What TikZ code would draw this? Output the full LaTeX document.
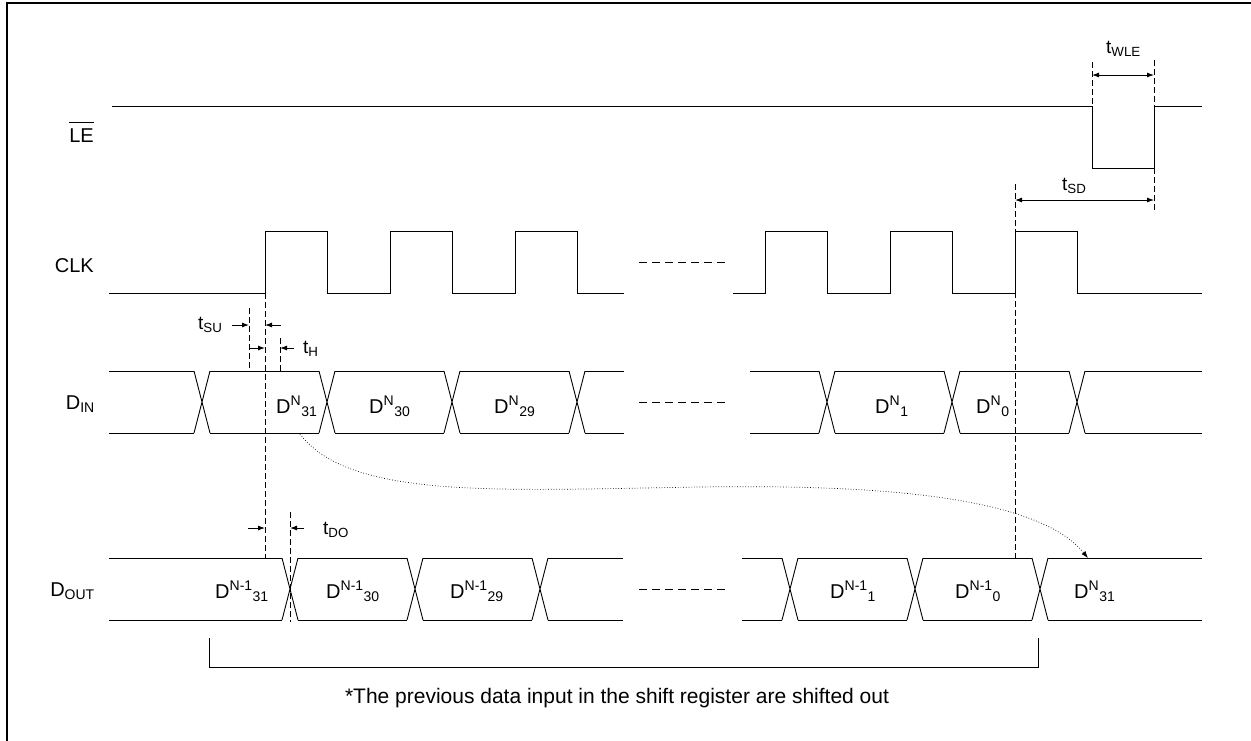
\documentclass[tikz,border=0pt]{standalone}
\usepackage{fontspec}
\setmainfont{Liberation Sans}
\usetikzlibrary{arrows.meta,calc}
% one bus row: top y, start x, crossings, end x
\newcommand\databus[4]{%
  \foreach \c [remember=\c as \p (initially #2-8)] in {#3,#4+8}
    \draw[wave] (\p+8,#1) -- (\c-8,#1) (\p+8,#1+62) -- (\c-8,#1+62);
  \foreach \c in {#3}
    \draw[wave] (\c-8,#1) -- (\c+8,#1+62) (\c-8,#1+62) -- (\c+8,#1);
}
\def\dv#1#2{D\textsuperscript{#1}\textsubscript{#2}}
\tikzset{
  wave/.style={line width=0.9pt},
  guide/.style={line width=0.8pt,dash pattern=on 6pt off 3pt},
  gapline/.style={line width=0.8pt,dash pattern=on 8pt off 5pt},
  lbl/.style={font=\fontsize{20}{23}\selectfont,inner sep=0pt},
  tlbl/.style={font=\fontsize{19}{22}\selectfont,inner sep=0pt,anchor=base west},
}

\begin{document}
\begin{tikzpicture}[x=1pt,y=-1pt,>={Latex[length=7pt,width=5pt]}]
\useasboundingbox (0,0) rectangle (1251,740);
\draw[line width=2.4pt] (7,745) -- (7,3) -- (1256,3);

% signal names
\node[lbl,anchor=base east] (le) at (94,142) {LE};
\draw[line width=0.8pt] ([yshift=6pt]le.north west) -- ([yshift=6pt]le.north east);
\node[lbl,anchor=base east] (clk) at (94,272) {CLK};
\node[lbl,anchor=base east] (din) at (95,409) {D\textsubscript{IN}};
\node[lbl,anchor=base east] (dout) at (95,596) {D\textsubscript{OUT}};

% LE and CLK
\draw[wave] (112,106) -- (1092,106) -- (1092,168) -- (1154,168) -- (1154,106) -- (1202,106);
\draw[wave] (109,293) -- (265,293) -- (265,231) -- (327,231) -- (327,293) -- (390,293)
  -- (390,231) -- (452,231) -- (452,293) -- (515,293) -- (515,231) -- (577,231) -- (577,293) -- (624,293);
\draw[wave] (733,293) -- (765,293) -- (765,231) -- (827,231) -- (827,293) -- (890,293)
  -- (890,231) -- (952,231) -- (952,293) -- (1015,293) -- (1015,231) -- (1077,231) -- (1077,293) -- (1202,293);

% data rows
\databus{371}{109}{202,327,452,577}{624}
\databus{371}{750}{827,952,1077}{1202}
\databus{558}{109}{290,415,540}{623}
\databus{558}{742}{790,915,1040}{1202}
\draw[gapline] (639,262) -- (729,262) (639,402) -- (729,402) (639,589) -- (729,589);

\node[lbl,anchor=base west] (dn31) at (276,413) {\dv{N}{31}};
\node[lbl,anchor=base west] (dn30) at (369,413) {\dv{N}{30}};
\node[lbl,anchor=base west] (dn29) at (494,413) {\dv{N}{29}};
\node[lbl,anchor=base west] (dn1) at (875,413) {\dv{N}{1}};
\node[lbl,anchor=base west] (dn0) at (976,413) {\dv{N}{0}};
\node[lbl,anchor=base west] (dp31) at (215,598) {\dv{N-1}{31}};
\node[lbl,anchor=base west] (dp30) at (326,598) {\dv{N-1}{30}};
\node[lbl,anchor=base west] (dp29) at (450,598) {\dv{N-1}{29}};
\node[lbl,anchor=base west] (dp1) at (830,598) {\dv{N-1}{1}};
\node[lbl,anchor=base west] (dp0) at (955,598) {\dv{N-1}{0}};
\node[lbl,anchor=base west] (dq31) at (1074,598) {\dv{N}{31}};

% timing guides
\coordinate (edge) at (265,293);
\coordinate (edgeb) at (265,558);
\draw[guide] (edge) -- (edgeb);
\draw[guide] (249,308) -- (249,371);
\draw[guide] (280,338) -- (280,371);
\draw[guide] (290,512) -- (290,622);
\draw[guide] (1015,184) -- (1015,558);
\draw[guide] (1092,62) -- (1092,106);
\draw[guide] (1154,60) -- (1154,212);

% setup / hold / delay
\draw[->,wave] (232,325) -- (249,325);
\draw[->,wave] (281,325) -- (265,325);
\node[tlbl] (tsu) at (198,329) {t\textsubscript{SU}};
\draw[->,wave] (249,348) -- (265,348);
\draw[->,wave] (294,348) -- (280,348);
\node[tlbl] (th) at (303,353) {t\textsubscript{H}};
\draw[->,wave] (248,528) -- (265,528);
\draw[->,wave] (304,528) -- (290,528);
\node[tlbl] (tdo) at (323,534) {t\textsubscript{DO}};

% LE timing
\coordinate (wle1) at (1092,75);
\coordinate (wle2) at (1154,75);
\draw[<->,wave] (wle1) -- (wle2);
\node[tlbl] (twle) at (1106,53) {t\textsubscript{WLE}};
\coordinate (sd1) at (1015,200);
\coordinate (sd2) at (1154,200);
\draw[<->,wave] (sd1) -- (sd2);
\node[tlbl] (tsd) at (1062,190) {t\textsubscript{SD}};

% shifted data path
\coordinate (from) at (300,434);
\coordinate (to) at (1088,558);
\draw[->,dotted,line width=0.7pt] (from) .. controls (350,500) and (500,490) .. (700,487)
  .. controls (900,484) and (1040,500) .. (to);

% bracket and note
\draw[wave] (209,638) -- (209,667) -- (1038,667) -- (1038,638);
\node[font=\fontsize{21}{24}\selectfont,inner sep=0pt] (note) at (617,698)
  {*The previous data input in the shift register are shifted out};
\end{tikzpicture}
\end{document}
